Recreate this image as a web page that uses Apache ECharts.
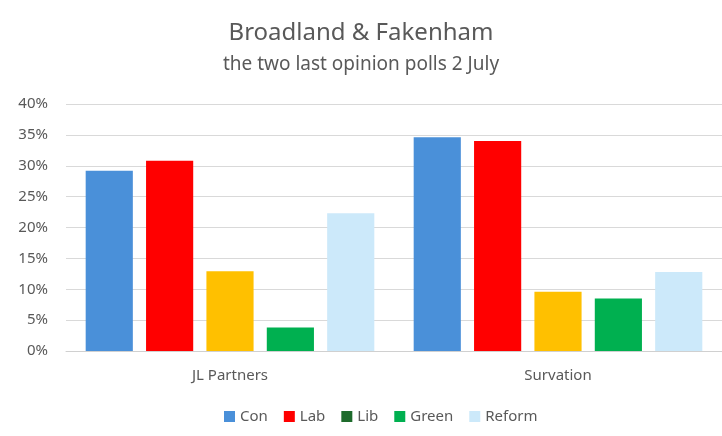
<!DOCTYPE html>
<html>
<head>
<meta charset="utf-8">
<script src="https://cdn.jsdelivr.net/npm/echarts@6/dist/echarts.min.js"></script>
<style>
  html, body { margin: 0; padding: 0; background: #fff; }
  #chart { width: 722px; height: 436px; }
</style>
</head>
<body>
<div id="chart"></div>
<script>
"use strict";

// polls and party shares (%)
var polls = ['JL Partners', 'Survation'];
var parties = ['Con', 'Lab', 'Lib', 'Green', 'Reform'];
var con = [29.2, 34.6];
var lab = [30.8, 34.0];
var lib = [12.9, 9.6];
var green = [3.8, 8.5];
var reform = [22.3, 12.8];
var yTicks = [0, 5, 10, 15, 20, 25, 30, 35, 40];

var barColors = ['#4a90d9', '#ff0000', '#ffc000', '#00b050', '#cce9fa'];
// the legend swatch for Lib is dark green in the original, not the bar colour
var legendColors = ['#4a90d9', '#ff0000', '#1e6b2c', '#00b050', '#cce9fa'];
var values = [con, lab, lib, green, reform];

var font = 'Noto Sans';
var textColor = '#595959';

var myChart = echarts.init(document.getElementById('chart'));

var series = parties.map(function (name, i) {
    return {
        name: name,
        type: 'bar',
        data: values[i],
        barGap: '28%',
        barCategoryGap: '12%',
        itemStyle: { color: barColors[i] }
    };
});

var option = {
    animation: false,
    title: {
        text: 'Broadland & Fakenham',
        subtext: 'the two last opinion polls 2 July',
        left: 'center',
        top: 16,
        itemGap: 10,
        textStyle: { fontFamily: font, fontSize: 24, fontWeight: 'normal', color: textColor },
        subtextStyle: { fontFamily: font, fontSize: 19, color: textColor }
    },
    legend: {
        bottom: 7,
        left: 219,
        itemWidth: 11,
        itemHeight: 11,
        itemGap: 16,
        icon: 'rect',
        textStyle: { fontFamily: font, fontSize: 15, color: textColor },
        data: parties.map(function (name, i) {
            return { name: name, itemStyle: { color: legendColors[i] } };
        })
    },
    grid: {
        left: 66,
        top: 104,
        width: 661,
        height: 247
    },
    xAxis: {
        type: 'category',
        data: polls,
        axisTick: { show: false },
        axisLine: { lineStyle: { color: '#d0d0d0', width: 1 } },
        axisLabel: { fontFamily: font, fontSize: 15, color: textColor, margin: 17 }
    },
    yAxis: {
        type: 'value',
        min: yTicks[0],
        max: yTicks[yTicks.length - 1],
        interval: yTicks[1] - yTicks[0],
        axisLine: { show: false },
        axisTick: { show: false },
        splitLine: { lineStyle: { color: '#d9d9d9', width: 1 } },
        axisLabel: {
            fontFamily: font, fontSize: 15, color: textColor, margin: 18,
            formatter: '{value}%'
        }
    },
    series: series
};

myChart.setOption(option);
</script>
</body>
</html>
